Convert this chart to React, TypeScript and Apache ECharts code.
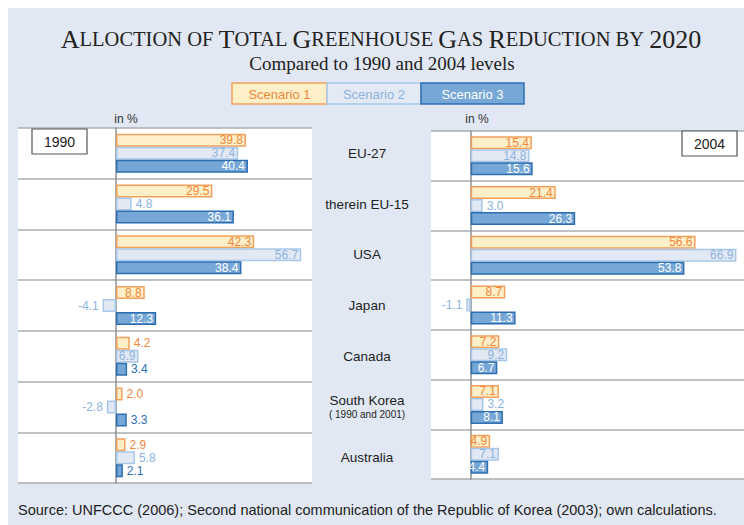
import React, { useEffect, useRef } from "react";
import * as echarts from "echarts";

const categories = ["EU-27", "therein EU-15", "USA", "Japan", "Canada", "South Korea", "Australia"];
const categoryNotes = ["", "", "", "", "", "( 1990 and 2001)", ""];
const scenarioNames = ["Scenario 1", "Scenario 2", "Scenario 3"];

const s1_1990 = [39.8, 29.5, 42.3, 8.8, 4.2, 2.0, 2.9];
const s2_1990 = [37.4, 4.8, 56.7, -4.1, 6.9, -2.8, 5.8];
const s3_1990 = [40.4, 36.1, 38.4, 12.3, 3.4, 3.3, 2.1];

const s1_2004 = [15.4, 21.4, 56.6, 8.7, 7.2, 7.1, 4.9];
const s2_2004 = [14.8, 3.0, 66.9, -1.1, 9.2, 3.2, 7.1];
const s3_2004 = [15.6, 26.3, 53.8, 11.3, 6.7, 8.1, 4.4];

const baseYears = ["1990", "2004"];
const titleText = "ALLOCTION OF TOTAL GREENHOUSE GAS REDUCTION BY 2020";
const subtitleText = "Compared to 1990 and 2004 levels";
const unitText = "in %";
const sourceText =
  "Source: UNFCCC (2006); Second national communication of the Republic of Korea (2003); own calculations.";

const SANS = "'Liberation Sans', Arial, sans-serif";
const SERIF = "'Liberation Serif', 'Times New Roman', serif";
const BG = "#e1e8f3";

const styles = [
  { fill: "#fdefc8", border: "#f4a05a", labelIn: "#ef8838", labelOut: "#ef8838" },
  { fill: "#e2e9f4", border: "#a8c7e8", labelIn: "#8cb3de", labelOut: "#8cb3de" },
  { fill: "#76a7d6", border: "#2e6fb2", labelIn: "#ffffff", labelOut: "#2b70b5" },
];

// Build small-caps rich text for the title
function smallCaps(text: string) {
  const words = text.split(" ");
  return words
    .map((w) => {
      if (/^\d+$/.test(w)) return `{big|${w}}`;
      const isBigFirst = !["OF", "BY"].includes(w);
      if (isBigFirst) {
        return `{big|${w[0]}}` + (w.length > 1 ? `{small|${w.slice(1)}}` : "");
      }
      return `{small|${w}}`;
    })
    .join("{small| }");
}

function makeSeries(values: number[], idx: number, grid: number, threshold: number) {
  const st = styles[idx];
  return {
    type: "bar",
    name: scenarioNames[idx],
    xAxisIndex: grid,
    yAxisIndex: grid,
    barWidth: 13,
    barGap: "0%",
    silent: true,
    itemStyle: { color: st.fill, borderColor: st.border, borderWidth: 1.5 },
    label: {
      show: true,
      fontSize: 12,
      fontFamily: SANS,
      formatter: (p: any) => Number(p.value).toFixed(1),
    },
    data: values.map((v) => {
      const neg = v < 0;
      const inside = !neg && v >= threshold;
      return {
        value: v,
        label: {
          position: neg ? "left" : inside ? "insideRight" : "right",
          distance: inside ? 3 : 4,
          color: inside ? st.labelIn : st.labelOut,
        },
      };
    }),
  };
}

function panelAxes(gridIndex: number, min: number, max: number) {
  return {
    x: { gridIndex, type: "value", min, max, show: false },
    y: {
      gridIndex,
      type: "category",
      data: categories,
      inverse: true,
      axisLine: { show: true, onZero: true, lineStyle: { color: "#8d8f94", width: 1.5 } },
      axisTick: { show: false },
      axisLabel: { show: false },
      splitLine: { show: true, lineStyle: { color: "#abadb2", width: 1.5 } },
    },
  };
}

export default function App() {
  const ref = useRef<HTMLDivElement>(null);
  useEffect(() => {
    if (!ref.current) return;
    const chart = echarts.init(ref.current, undefined, { renderer: "svg" });
    const left = panelAxes(0, -30, 60);
    const right = panelAxes(1, -10, 68.8);
    const legendX = [232, 327, 421];
    const legendW = [95, 94, 103];
    const legendFill = [styles[0].fill, "#e3eaf5", styles[2].fill];
    const legendText = [styles[0].labelIn, styles[1].labelIn, "#ffffff"];
    const option: any = {
      animation: false,
      grid: [
        { left: 18, top: 128, width: 294, height: 355, show: true, backgroundColor: "#fff", borderWidth: 0 },
        { left: 431, top: 131, width: 313, height: 348, show: true, backgroundColor: "#fff", borderWidth: 0 },
        { left: 367, top: 128, width: 1, height: 355, show: false },
      ],
      xAxis: [left.x, right.x, { gridIndex: 2, type: "value", min: 0, max: 1, show: false }],
      yAxis: [
        left.y,
        right.y,
        {
          gridIndex: 2,
          type: "category",
          data: categories,
          inverse: true,
          axisLine: { show: false },
          axisTick: { show: false },
          splitLine: { show: false },
          axisLabel: {
            show: true,
            margin: 0,
            align: "center",
            fontSize: 13.5,
            fontFamily: SANS,
            color: "#222",
            lineHeight: 16,
            formatter: (v: string) => {
              const i = categories.indexOf(v);
              return categoryNotes[i] ? `${v}\n{s|${categoryNotes[i]}}` : v;
            },
            rich: { s: { fontSize: 10, fontFamily: SANS, color: "#222", lineHeight: 12 } },
          },
        },
      ],
      series: [
        makeSeries(s1_1990, 0, 0, 6),
        makeSeries(s2_1990, 1, 0, 6),
        makeSeries(s3_1990, 2, 0, 6),
        makeSeries(s1_2004, 0, 1, 4),
        makeSeries(s2_2004, 1, 1, 4),
        makeSeries(s3_2004, 2, 1, 4),
      ],
      graphic: [
        { type: "rect", z: -100, silent: true, shape: { x: 8, y: 8, width: 736, height: 517 }, style: { fill: BG } },
        {
          type: "text",
          x: 381,
          y: 39,
          silent: true,
          style: {
            text: smallCaps(titleText),
            align: "center",
            verticalAlign: "middle",
            fill: "#222",
            rich: {
              big: { fontSize: 26, fontFamily: SERIF, fill: "#222", lineHeight: 24 },
              small: { fontSize: 20.5, fontFamily: SERIF, fill: "#222", lineHeight: 24 },
            },
          },
        },
        {
          type: "text",
          x: 382,
          y: 63,
          silent: true,
          style: { text: subtitleText, align: "center", verticalAlign: "middle", fontSize: 19, lineHeight: 19, fontFamily: SERIF, fill: "#222" },
        },
        ...scenarioNames.flatMap((n, i) => [
          {
            type: "rect",
            silent: true,
            shape: { x: legendX[i], y: 83, width: legendW[i], height: 21 },
            style: { fill: legendFill[i], stroke: styles[i].border, lineWidth: 1.5 },
          },
          {
            type: "text",
            silent: true,
            x: legendX[i] + legendW[i] / 2,
            y: 94,
            style: { text: n, align: "center", verticalAlign: "middle", fontSize: 13, fontFamily: SANS, fill: legendText[i] },
          },
        ]),
        { type: "text", silent: true, x: 126, y: 119, style: { text: unitText, align: "center", verticalAlign: "middle", fontSize: 12, fontFamily: SANS, fill: "#333" } },
        { type: "text", silent: true, x: 477, y: 119, style: { text: unitText, align: "center", verticalAlign: "middle", fontSize: 12, fontFamily: SANS, fill: "#333" } },
        { type: "rect", silent: true, z: 10, shape: { x: 32, y: 129, width: 55, height: 25 }, style: { fill: "#fff", stroke: "#555", lineWidth: 1.2 } },
        { type: "text", silent: true, z: 11, x: 59.5, y: 142, style: { text: baseYears[0], align: "center", verticalAlign: "middle", fontSize: 14, fontFamily: SANS, fill: "#222" } },
        { type: "rect", silent: true, z: 10, shape: { x: 682, y: 131, width: 55, height: 25 }, style: { fill: "#fff", stroke: "#555", lineWidth: 1.2 } },
        { type: "text", silent: true, z: 11, x: 709.5, y: 144, style: { text: baseYears[1], align: "center", verticalAlign: "middle", fontSize: 14, fontFamily: SANS, fill: "#222" } },
        { type: "text", silent: true, x: 18, y: 510, style: { text: sourceText, align: "left", verticalAlign: "middle", fontSize: 14.5, fontFamily: SANS, fill: "#222" } },
      ],
    };
    chart.setOption(option);
    return () => chart.dispose();
  }, []);
  return <div ref={ref} style={{ position: "absolute", left: 0, top: 0, width: 744, height: 525 }} />;
}
